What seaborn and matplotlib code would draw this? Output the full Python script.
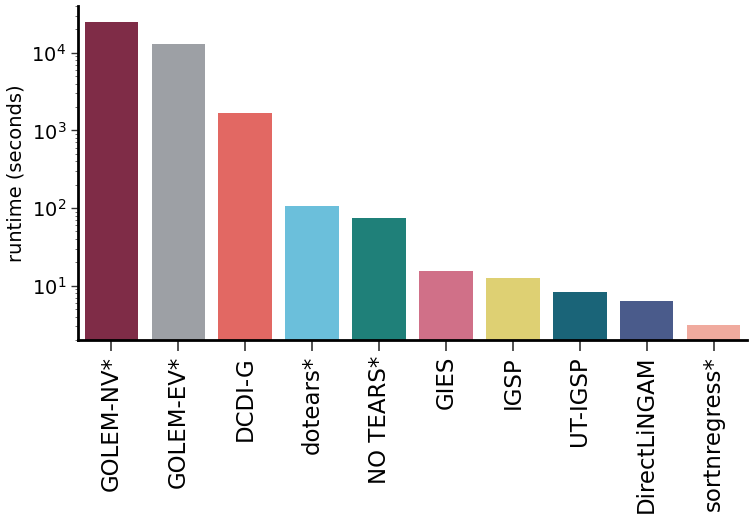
import matplotlib
matplotlib.use("Agg")
import matplotlib.pyplot as plt
import seaborn as sns
import pandas as pd

methods = ["GOLEM-NV*", "GOLEM-EV*", "DCDI-G", "dotears*", "NO TEARS*",
           "GIES", "IGSP", "UT-IGSP", "DirectLiNGAM", "sortnregress*"]
runtime = [25100, 13100, 1660, 106, 73.6, 15.6, 12.7, 8.4, 6.4, 3.13]
colors = ["#7f2c47", "#9da0a5", "#e26863", "#6bbfdb", "#1f8079",
          "#d07088", "#ded073", "#1a6478", "#4a5b8b", "#f0aa9e"]

sns.set_style("ticks")
plt.rcParams['font.family'] = ['DejaVu Sans']
plt.rcParams['text.color'] = 'black'
plt.rcParams['axes.labelcolor'] = 'black'
plt.rcParams['xtick.labelcolor'] = 'black'
plt.rcParams['ytick.labelcolor'] = 'black'

df = pd.DataFrame({"method": methods, "runtime": runtime})

fig = plt.figure(figsize=(7.54, 5.24), dpi=100)
ax = fig.add_axes([78/754, 1 - 340/524, 669/754, 334/524])
sns.barplot(data=df, x="method", y="runtime", hue="method", palette=colors,
            legend=False, width=0.8, saturation=1, ax=ax, linewidth=0)
ax.set_yscale("log")
ax.set_ylim(2, 40000)
ax.set_xlim(-0.5, 9.5)
ax.set_xlabel("")
ax.set_ylabel("runtime (seconds)", fontsize=14, color="black")
ax.tick_params(axis="x", labelsize=16.5, rotation=90, length=8, width=1.2,
               color="#333333", labelcolor="black")
ax.tick_params(axis="y", which="major", labelsize=14, length=5, width=1,
               color="#333333", labelcolor="black")
ax.tick_params(axis="y", which="minor", length=2.5, width=0.6, color="#555555")
for s in ["left", "bottom"]:
    ax.spines[s].set_linewidth(2)
    ax.spines[s].set_color("black")
sns.despine(ax=ax)
fig.savefig("out.png", dpi=100)
